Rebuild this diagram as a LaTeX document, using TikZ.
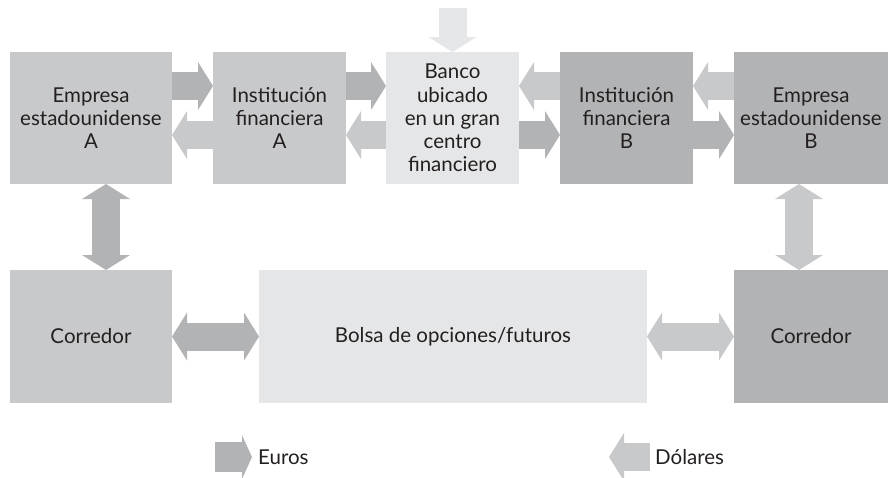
\documentclass[tikz,border=0pt]{standalone}
\usepackage{fontspec}
\setmainfont{Lato}
\usetikzlibrary{arrows.meta,positioning,calc}
\definecolor{tinta}{RGB}{35,31,32}
\definecolor{euro}{RGB}{178,179,181}
\definecolor{dolar}{RGB}{200,201,203}
\definecolor{palido}{RGB}{229,230,231}

\begin{document}
\begin{tikzpicture}[x=1pt,y=-1pt,
  >={Triangle[length=15pt,width=48pt,line width=0pt]},
  caja/.style={inner sep=0pt,outer sep=0pt,minimum height=132pt,align=center,text=tinta,font=\fontsize{20.5}{23.2}\selectfont},
  flecha/.style={line width=28pt},
  leyenda/.style={anchor=west,inner sep=0pt,text=tinta,font=\fontsize{20.5}{23.2}\selectfont}]
 \useasboundingbox (0,0) rectangle (888,477);
 % fila superior
 \node[caja,fill=dolar,minimum width=162pt] (empA) at (91,118) {Empresa\\estadounidense\\A};
 \node[caja,fill=dolar,minimum width=133pt] (instA) at (279.5,118) {Institución\\financiera\\A};
 \node[caja,fill=palido,minimum width=133pt] (banco) at (452.5,118) {Banco\\ubicado\\en un gran\\centro\\financiero};
 \node[caja,fill=euro,minimum width=133pt] (instB) at (626.5,118) {Institución\\financiera\\B};
 \node[caja,fill=euro,minimum width=154pt] (empB) at (811,118) {Empresa\\estadounidense\\B};
 % fila inferior
 \node[caja,fill=dolar,minimum width=162pt,minimum height=133pt] (corrA) at (91,336.5) {Corredor};
 \node[caja,fill=palido,minimum width=388pt,minimum height=133pt] (bolsa) at (453,336.5) {Bolsa de opciones/futuros};
 \node[caja,fill=euro,minimum width=154pt,minimum height=133pt] (corrB) at (811,336.5) {Corredor};
 % alturas de las flechas
 \coordinate (sup) at (0,86);
 \coordinate (inf) at (0,135);
 \coordinate (arriba) at (452.5,8);
 % flechas entre cajas de arriba
 \draw[flecha,euro,->] (empA.east |- sup) -- (instA.west |- sup);
 \draw[flecha,dolar,->] (instA.west |- inf) -- (empA.east |- inf);
 \draw[flecha,euro,->] (instA.east |- sup) -- (banco.west |- sup);
 \draw[flecha,dolar,->] (banco.west |- inf) -- (instA.east |- inf);
 \draw[flecha,dolar,->] (instB.west |- sup) -- (banco.east |- sup);
 \draw[flecha,euro,->] (banco.east |- inf) -- (instB.west |- inf);
 \draw[flecha,dolar,->] (empB.west |- sup) -- (instB.east |- sup);
 \draw[flecha,euro,->] (instB.east |- inf) -- (empB.west |- inf);
 \draw[flecha,palido,->] (arriba) -- (banco.north);
 % flechas dobles
 \draw[flecha,euro,<->] ([xshift=15pt]empA.south) -- ([xshift=15pt]corrA.north);
 \draw[flecha,dolar,<->] ([xshift=-12pt]empB.south) -- ([xshift=-12pt]corrB.north);
 \draw[flecha,euro,<->] (corrA.east) -- (bolsa.west);
 \draw[flecha,dolar,<->] (bolsa.east) -- (corrB.west);
 % leyenda
 \node[leyenda] (leyEuro) at (258,457) {Euros};
 \node[leyenda] (leyDolar) at (655,457) {Dólares};
 \coordinate (euroCola) at (215,457);
 \coordinate (dolarPunta) at (609,457);
 \draw[line width=30pt,euro,-{Triangle[length=10pt,width=44pt,line width=0pt]}] (euroCola) -- ([xshift=-6pt]leyEuro.west);
 \draw[flecha,dolar,<-] (dolarPunta) -- ([xshift=-5pt]leyDolar.west);
\end{tikzpicture}
\end{document}
